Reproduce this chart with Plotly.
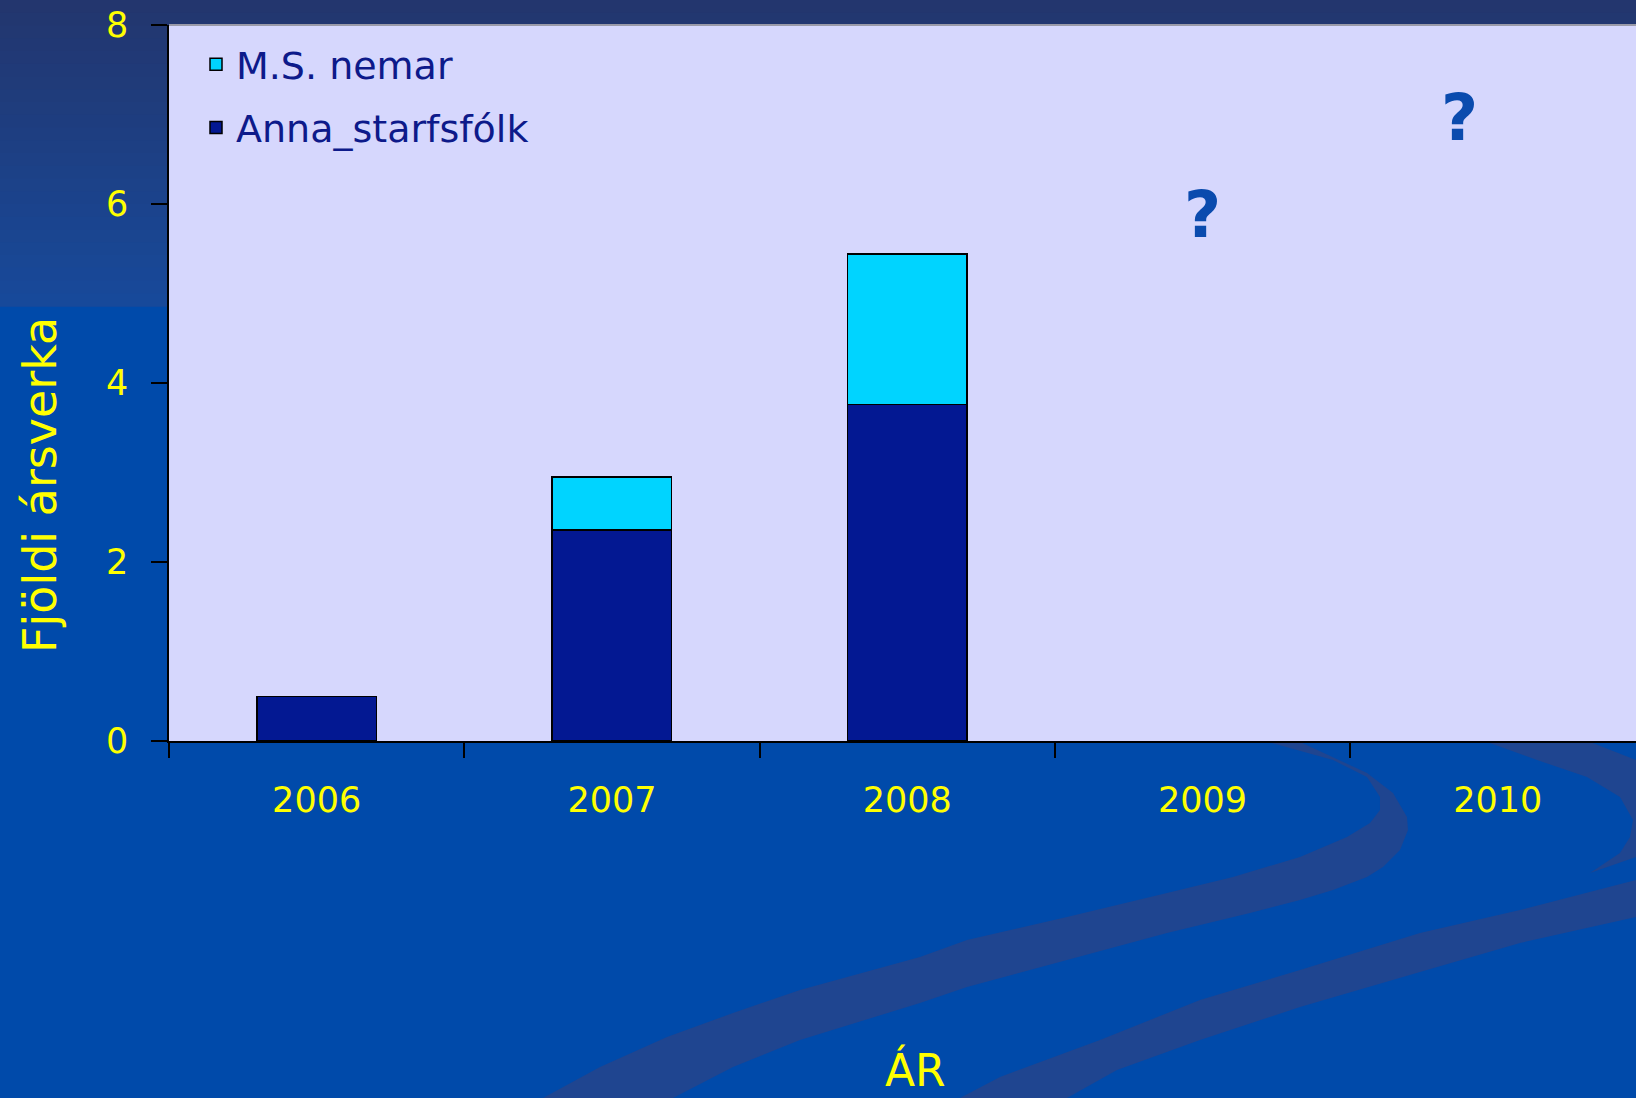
import plotly.graph_objects as go

# ---------------- data ----------------
years = ["2006", "2007", "2008", "2009", "2010"]
anna_starfsfolk = [0.5, 2.36, 3.76, None, None]
ms_nemar = [None, 0.59, 1.68, None, None]
y_tickvals = [0, 2, 4, 6, 8]
question_marks = [("?", 3.0, 5.88), ("?", 3.87, 6.96)]

# ---------------- geometry helpers (decoration only) ----------------
W, H = 1636, 1098
L, R, T, B = 169, 0, 25, 357
PW, PH = W - L - R, H - T - B


def px(X):
    return (X - L) / PW


def py(Y):
    return (H - B - Y) / PH


def poly(points):
    s = "M " + " L ".join(f"{px(x):.5f},{py(y):.5f}" for x, y in points) + " Z"
    return s


shapes = []
# top gradient band of the slide background
n = 24
c0 = (35, 54, 110)
c1 = (23, 73, 154)
top_h = 306
for i in range(n):
    t = i / (n - 1)
    col = tuple(round(c0[k] + (c1[k] - c0[k]) * t) for k in range(3))
    y0 = top_h * i / n
    y1 = top_h * (i + 1) / n + 0.8
    shapes.append(dict(type="rect", xref="paper", yref="paper", layer="below",
                       x0=px(0), x1=px(W), y0=py(y1), y1=py(y0),
                       fillcolor=f"rgb{col}", line=dict(width=0)))

band_color = "#1F4590"
band_a = [(1268, 742), (1300, 742), (1367, 773), (1393, 793), (1407, 817), (1408, 830),
          (1400, 850), (1383, 867), (1367, 877), (1333, 890), (1300, 900), (1250, 913),
          (1167, 933), (1067, 960), (967, 987), (920, 1003), (800, 1040), (733, 1067),
          (673, 1098), (543, 1098), (600, 1067), (667, 1037), (733, 1013), (800, 990),
          (920, 957), (967, 940), (1067, 917), (1167, 893), (1233, 877), (1300, 857),
          (1347, 837), (1370, 823), (1380, 810), (1380, 797), (1367, 777), (1333, 760)]
band_b = [(1487, 742), (1590, 742), (1636, 760), (1636, 857), (1590, 873), (1620, 853),
          (1630, 837), (1633, 820), (1620, 797), (1587, 777), (1537, 760)]
band_c = [(1636, 880), (1520, 910), (1420, 933), (1300, 970), (1200, 1000), (1100, 1040),
          (1000, 1077), (960, 1098), (1067, 1098), (1117, 1070), (1200, 1040), (1300, 1007),
          (1420, 972), (1520, 943), (1636, 917)]
for band in (band_a, band_b, band_c):
    shapes.append(dict(type="path", xref="paper", yref="paper", layer="below",
                       path=poly(band), fillcolor=band_color, line=dict(width=0)))

# plot area background (drawn over the slide gradient)
shapes.append(dict(type="rect", xref="paper", yref="paper", layer="below",
                   x0=0, x1=1.01, y0=0, y1=1, fillcolor="#D6D7FD", line=dict(width=0)))
# grey top border of the plot area
shapes.append(dict(type="line", xref="paper", yref="paper", layer="above",
                   x0=0, x1=1.01, y0=1, y1=1, line=dict(color="#9A9AA8", width=2)))

FONT = "DejaVu Sans"
YELLOW = "#FFFF00"

fig = go.Figure()
fig.add_trace(go.Bar(
    x=years, y=anna_starfsfolk, name="Anna_starfsfólk", legendgroup="a", legendrank=2,
    marker=dict(color="#031892", line=dict(color="#000000", width=1.5)),
))
fig.add_trace(go.Bar(
    x=years, y=ms_nemar, name="M.S. nemar", legendgroup="b", legendrank=1,
    marker=dict(color="#00D4FF", line=dict(color="#000000", width=1.5)),
))

annotations = []
for txt, xv, yv in question_marks:
    annotations.append(dict(text=f"<b>{txt}</b>", x=xv, y=yv, xref="x", yref="y",
                            showarrow=False, font=dict(family=FONT, size=64, color="#0A4BAE")))
annotations.append(dict(text="Fjöldi ársverka", textangle=-90, x=px(40), y=py(485),
                        xref="paper", yref="paper", xanchor="center", yanchor="middle",
                        showarrow=False, font=dict(family=FONT, size=46, color=YELLOW)))
annotations.append(dict(text="ÁR", x=px(915), y=py(1070), xref="paper", yref="paper",
                        xanchor="center", yanchor="middle", showarrow=False,
                        font=dict(family=FONT, size=44, color=YELLOW)))

fig.update_layout(
    width=W, height=H,
    margin=dict(l=L, r=R, t=T, b=B, pad=0),
    paper_bgcolor="#004AAA",
    plot_bgcolor="#D6D7FD",
    barmode="stack",
    bargap=0.595,
    showlegend=True,
    legend=dict(x=px(196), y=py(33), xanchor="left", yanchor="top",
                bgcolor="rgba(0,0,0,0)", traceorder="grouped",
                tracegroupgap=11,
                font=dict(family=FONT, size=38, color="#0D1A8A")),
    shapes=shapes,
    annotations=annotations,
    font=dict(family=FONT),
)
fig.update_xaxes(
    type="category", categoryorder="array", categoryarray=years,
    range=[-0.5, 4.468], tickson="boundaries",
    ticks="outside", ticklen=15, tickwidth=1.5, tickcolor="#000000",
    showline=True, linecolor="#000000", linewidth=1.5,
    showgrid=False, zeroline=False,
    tickfont=dict(family=FONT, size=35, color=YELLOW),
    ticklabelstandoff=27,
)
fig.update_yaxes(
    range=[0, 8], tickvals=y_tickvals, ticktext=[str(v) for v in y_tickvals],
    ticks="outside", ticklen=16, tickwidth=1.5, tickcolor="#000000",
    showline=True, linecolor="#000000", linewidth=1.5,
    showgrid=False, zeroline=False,
    tickfont=dict(family=FONT, size=35, color=YELLOW),
    ticklabelstandoff=16,
)

fig.write_html("out.html",
               config={"displayModeBar": False},
               post_script="document.body.style.margin='0';document.body.style.overflow='hidden';")
